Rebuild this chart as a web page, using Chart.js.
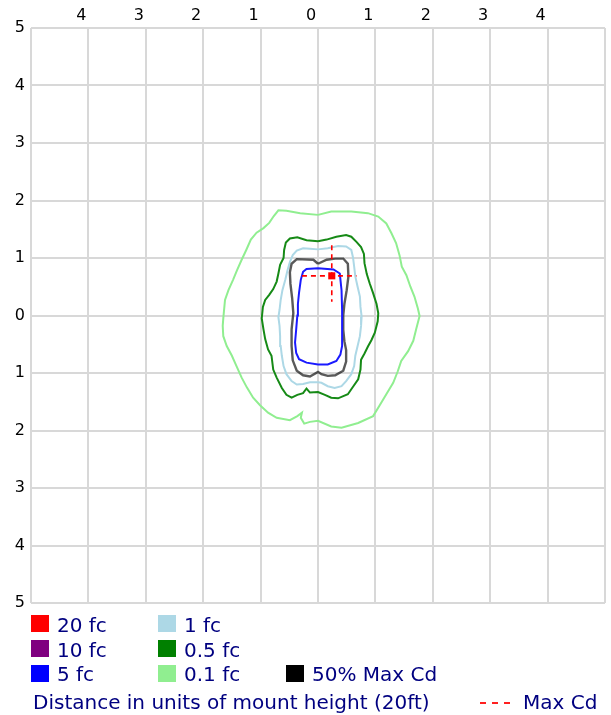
<!DOCTYPE html>
<html>
<head>
<meta charset="utf-8">
<script src="https://cdn.jsdelivr.net/npm/chart.js@4"></script>
<style>
  body { margin: 0; background: #fff; }
  #wrap { position: relative; width: 611px; height: 715px; font-family: 'DejaVu Sans', Verdana, sans-serif; color: #000080; }
  #wrap canvas { position: absolute; left: 0; top: 0; }
  .sw { position: absolute; width: 18px; height: 17px; }
  .lb { position: absolute; font-size: 20px; line-height: 20px; white-space: nowrap; }
  .dash { position: absolute; height: 2px; width: 6px; background: #ff2020; }
</style>
</head>
<body>
<div id="wrap">
  <canvas id="iso" width="611" height="715"></canvas>

  <div class="sw" style="left:31px;top:615px;background:#ff0000"></div>
  <div class="lb" style="left:57px;top:615px">20 fc</div>
  <div class="sw" style="left:158px;top:615px;background:#add8e6"></div>
  <div class="lb" style="left:184px;top:615px">1 fc</div>

  <div class="sw" style="left:31px;top:640px;background:#800080"></div>
  <div class="lb" style="left:57px;top:640px">10 fc</div>
  <div class="sw" style="left:158px;top:640px;background:#008000"></div>
  <div class="lb" style="left:184px;top:640px">0.5 fc</div>

  <div class="sw" style="left:31px;top:665px;background:#0000ff"></div>
  <div class="lb" style="left:57px;top:664px">5 fc</div>
  <div class="sw" style="left:158px;top:665px;background:#90ee90"></div>
  <div class="lb" style="left:184px;top:664px">0.1 fc</div>
  <div class="sw" style="left:286px;top:665px;background:#000000"></div>
  <div class="lb" style="left:312px;top:664px">50% Max Cd</div>

  <div class="lb" style="left:33px;top:692px">Distance in units of mount height (20ft)</div>
  <div class="dash" style="left:480px;top:702px"></div>
  <div class="dash" style="left:492px;top:702px"></div>
  <div class="dash" style="left:504px;top:702px"></div>
  <div class="lb" style="left:523px;top:692px">Max Cd</div>
</div>

<script>
// ── Isofootcandle plot: contours in units of mount height ──

// contour outlines [x, y], traced clockwise from top centre
const fc01 = [[0,1.75],[0.23,1.81],[0.58,1.81],[0.87,1.78],[1.05,1.72],[1.19,1.60],[1.28,1.43],[1.36,1.26],[1.42,1.05],[1.46,0.85],[1.54,0.70],[1.61,0.50],[1.68,0.33],[1.74,0.12],[1.77,-0.01],[1.71,-0.24],[1.66,-0.44],[1.57,-0.62],[1.45,-0.79],[1.39,-0.97],[1.31,-1.17],[1.19,-1.37],[1.07,-1.57],[0.96,-1.75],[0.70,-1.87],[0.41,-1.95],[0.23,-1.93],[0,-1.83],[-0.14,-1.85],[-0.24,-1.88],[-0.30,-1.78],[-0.28,-1.69],[-0.36,-1.75],[-0.49,-1.82],[-0.72,-1.78],[-0.87,-1.69],[-1.01,-1.56],[-1.13,-1.43],[-1.24,-1.25],[-1.33,-1.08],[-1.42,-0.88],[-1.50,-0.70],[-1.59,-0.53],[-1.65,-0.36],[-1.66,-0.18],[-1.65,-0.05],[-1.62,0.27],[-1.56,0.44],[-1.48,0.62],[-1.41,0.79],[-1.33,0.97],[-1.25,1.14],[-1.17,1.32],[-1.07,1.44],[-0.95,1.52],[-0.85,1.61],[-0.77,1.73],[-0.69,1.83],[-0.55,1.82],[-0.31,1.78],[0,1.75]];

const fc05 = [[0,1.29],[0.15,1.32],[0.32,1.37],[0.49,1.40],[0.58,1.37],[0.67,1.28],[0.75,1.19],[0.80,1.07],[0.81,0.91],[0.85,0.72],[0.90,0.56],[0.96,0.39],[1.02,0.20],[1.05,0.04],[1.04,-0.10],[0.99,-0.30],[0.93,-0.43],[0.87,-0.54],[0.81,-0.66],[0.75,-0.77],[0.74,-0.94],[0.70,-1.11],[0.61,-1.24],[0.52,-1.37],[0.35,-1.44],[0.23,-1.43],[0.12,-1.38],[0,-1.33],[-0.14,-1.34],[-0.20,-1.27],[-0.26,-1.35],[-0.36,-1.38],[-0.46,-1.43],[-0.55,-1.38],[-0.63,-1.26],[-0.72,-1.08],[-0.78,-0.94],[-0.81,-0.70],[-0.87,-0.59],[-0.92,-0.41],[-0.95,-0.24],[-0.98,-0.05],[-0.96,0.15],[-0.92,0.27],[-0.85,0.36],[-0.78,0.46],[-0.72,0.59],[-0.69,0.73],[-0.66,0.88],[-0.60,1.00],[-0.59,1.14],[-0.56,1.27],[-0.49,1.34],[-0.36,1.36],[-0.20,1.31],[0,1.29]];

const fc1 = [[0,1.15],[0.17,1.17],[0.35,1.21],[0.49,1.20],[0.58,1.14],[0.61,1.01],[0.63,0.85],[0.65,0.68],[0.69,0.50],[0.73,0.33],[0.74,0.15],[0.76,-0.02],[0.75,-0.18],[0.73,-0.36],[0.69,-0.53],[0.65,-0.70],[0.63,-0.88],[0.58,-1.02],[0.49,-1.14],[0.41,-1.23],[0.29,-1.26],[0.17,-1.23],[0.06,-1.17],[0,-1.16],[-0.14,-1.16],[-0.26,-1.19],[-0.37,-1.20],[-0.46,-1.14],[-0.55,-1.02],[-0.60,-0.88],[-0.63,-0.70],[-0.65,-0.53],[-0.66,-0.36],[-0.67,-0.18],[-0.69,-0.03],[-0.67,0.10],[-0.65,0.27],[-0.62,0.44],[-0.57,0.62],[-0.53,0.79],[-0.49,0.93],[-0.44,1.05],[-0.37,1.13],[-0.26,1.17],[-0.14,1.16],[0,1.15]];

const halfMax = [[0,0.90],[0.15,0.97],[0.30,0.99],[0.44,0.99],[0.52,0.90],[0.53,0.68],[0.50,0.44],[0.46,0.20],[0.44,0.00],[0.44,-0.25],[0.46,-0.45],[0.49,-0.60],[0.49,-0.80],[0.44,-0.96],[0.30,-1.04],[0.17,-1.05],[0.06,-1.02],[0,-0.98],[-0.14,-1.06],[-0.26,-1.04],[-0.37,-0.96],[-0.44,-0.78],[-0.46,-0.53],[-0.46,-0.24],[-0.43,0.04],[-0.45,0.30],[-0.48,0.55],[-0.49,0.75],[-0.46,0.90],[-0.37,0.98],[-0.08,0.97],[0,0.90]];

const fc5 = [[0,0.82],[0.27,0.80],[0.38,0.73],[0.41,0.44],[0.42,0.10],[0.42,-0.14],[0.42,-0.36],[0.42,-0.53],[0.39,-0.68],[0.32,-0.79],[0.17,-0.85],[0,-0.85],[-0.20,-0.82],[-0.33,-0.76],[-0.38,-0.65],[-0.40,-0.47],[-0.38,-0.24],[-0.36,0.00],[-0.35,0.20],[-0.33,0.40],[-0.30,0.62],[-0.26,0.76],[-0.20,0.81],[0,0.82]];

// max candela point and its cross hair
const maxCd    = [[0.24, 0.69]];
const maxCdH   = [[-0.28, 0.69], [0.67, 0.69]];
const maxCdV   = [[0.24, 1.22], [0.24, 0.24]];

const AXIS_MIN = -5, AXIS_MAX = 5;

const pts = arr => arr.map(([x, y]) => ({ x, y }));

function contour(data, color, width) {
  return {
    data: pts(data),
    showLine: true,
    borderColor: color,
    borderWidth: width,
    pointRadius: 0,
    fill: false,
    tension: 0
  };
}

const tickFont = { family: 'DejaVu Sans', size: 16 };

new Chart(document.getElementById('iso'), {
  type: 'scatter',
  data: {
    datasets: [
      { data: pts(maxCd), pointStyle: 'rect', pointRadius: 5, backgroundColor: '#ff0000', borderWidth: 0 },
      Object.assign(contour(maxCdH, '#ff0000', 1.6), { borderDash: [5, 4] }),
      Object.assign(contour(maxCdV, '#ff0000', 1.6), { borderDash: [5, 4] }),
      contour(fc5, '#1a1aff', 2),
      contour(halfMax, 'rgba(20,20,20,0.7)', 2.4),
      contour(fc1, '#add8e6', 2),
      contour(fc05, '#168a16', 2),
      contour(fc01, '#90ee90', 2)
    ]
  },
  options: {
    responsive: false,
    animation: false,
    events: [],
    layout: { padding: { left: 0, top: 0, right: 6, bottom: 112 } },
    plugins: { legend: { display: false }, tooltip: { enabled: false } },
    scales: {
      x: {
        type: 'linear',
        position: 'top',
        min: AXIS_MIN, max: AXIS_MAX,
        afterFit: s => { s.height = 28; },
        grid: { color: '#d8d8d8', lineWidth: 2, drawTicks: false },
        border: { display: false },
        ticks: {
          stepSize: 1, autoSkip: false, maxRotation: 0, padding: 3,
          labelOffset: -7, color: '#000', font: tickFont,
          callback: v => Math.abs(v) === 5 ? '' : String(Math.abs(v))
        }
      },
      y: {
        type: 'linear',
        position: 'left',
        min: AXIS_MIN, max: AXIS_MAX,
        afterFit: s => { s.width = 31; },
        grid: { color: '#d8d8d8', lineWidth: 2, drawTicks: false },
        border: { display: false },
        ticks: {
          stepSize: 1, autoSkip: false, padding: 6,
          color: '#000', font: tickFont,
          callback: v => String(Math.abs(v))
        }
      }
    }
  }
});
</script>
</body>
</html>
